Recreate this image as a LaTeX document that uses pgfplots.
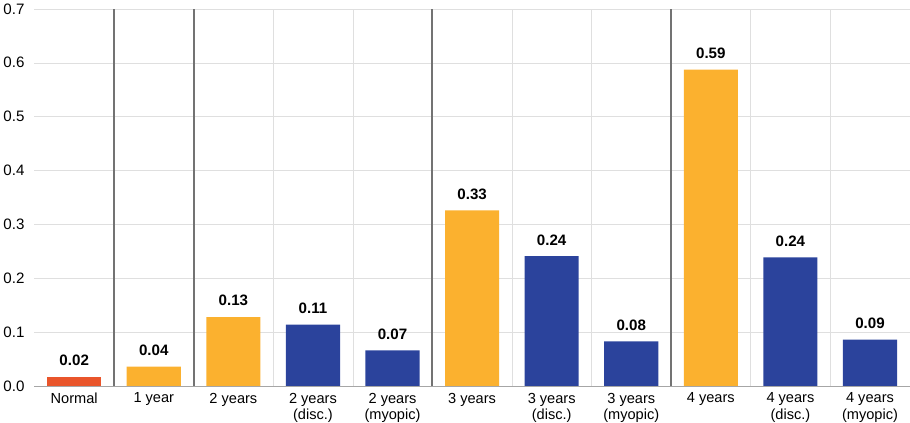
\documentclass[border=0pt]{standalone}
\usepackage{pgfplots}
\pgfplotsset{compat=1.18}
\usepackage{fontspec}
\setmainfont{Liberation Sans}
\definecolor{cred}{HTML}{E9552B}
\definecolor{corg}{HTML}{FBB12F}
\definecolor{cblu}{HTML}{2B439C}
\begin{document}
\begin{tikzpicture}
\begin{axis}[
  scale only axis, width=840pt, height=362pt,
  xmin=-0.5, xmax=10.5, ymin=0, ymax=0.7,
  ytick={0,0.1,...,0.7},
  yticklabel style={/pgf/number format/fixed,/pgf/number format/precision=1,/pgf/number format/fixed zerofill},
  /pgf/number format/assume math mode=true,
  xtick={0,...,10},
  xticklabels={Normal,1 year,2 years,2 years\\(disc.),2 years\\(myopic),3 years,3 years\\(disc.),3 years\\(myopic),4 years,4 years\\(disc.),4 years\\(myopic)},
  xticklabel style={align=center, font=\fontsize{14}{15.5}\selectfont, text depth=0pt, yshift=-3pt},
  yticklabel style={font=\fontsize{14.5}{15}\selectfont, xshift=-6pt},
  minor xtick={0.5,1.5,...,9.5},
  xminorgrids, ymajorgrids,
  minor grid style={gray!25}, major grid style={gray!25},
  major tick length=0pt, minor tick length=0pt,
  axis line style={draw=none},
  ybar, bar width=0.68, bar shift=0pt,
  nodes near coords,
  nodes near coords style={font=\bfseries\fontsize{14.5}{15}\selectfont,/pgf/number format/fixed,/pgf/number format/precision=2,/pgf/number format/fixed zerofill, yshift=7pt},
  clip=false,
]
\addplot[fill=cred, draw=none] coordinates {(0,0.017)};
\addplot[fill=corg, draw=none] coordinates {(1,0.036)(2,0.128)(5,0.326)(8,0.587)};
\addplot[fill=cblu, draw=none] coordinates {(3,0.114)(4,0.066)(6,0.241)(7,0.083)(9,0.239)(10,0.086)};
\draw[black!55, line width=2pt] (axis cs:0.5,0) -- (axis cs:0.5,0.7);
\draw[black!55, line width=2pt] (axis cs:1.5,0) -- (axis cs:1.5,0.7);
\draw[black!55, line width=2pt] (axis cs:4.5,0) -- (axis cs:4.5,0.7);
\draw[black!55, line width=2pt] (axis cs:7.5,0) -- (axis cs:7.5,0.7);
\draw[gray!70] (axis cs:-0.5,0) -- (axis cs:10.5,0);
\end{axis}
\end{tikzpicture}
\end{document}
